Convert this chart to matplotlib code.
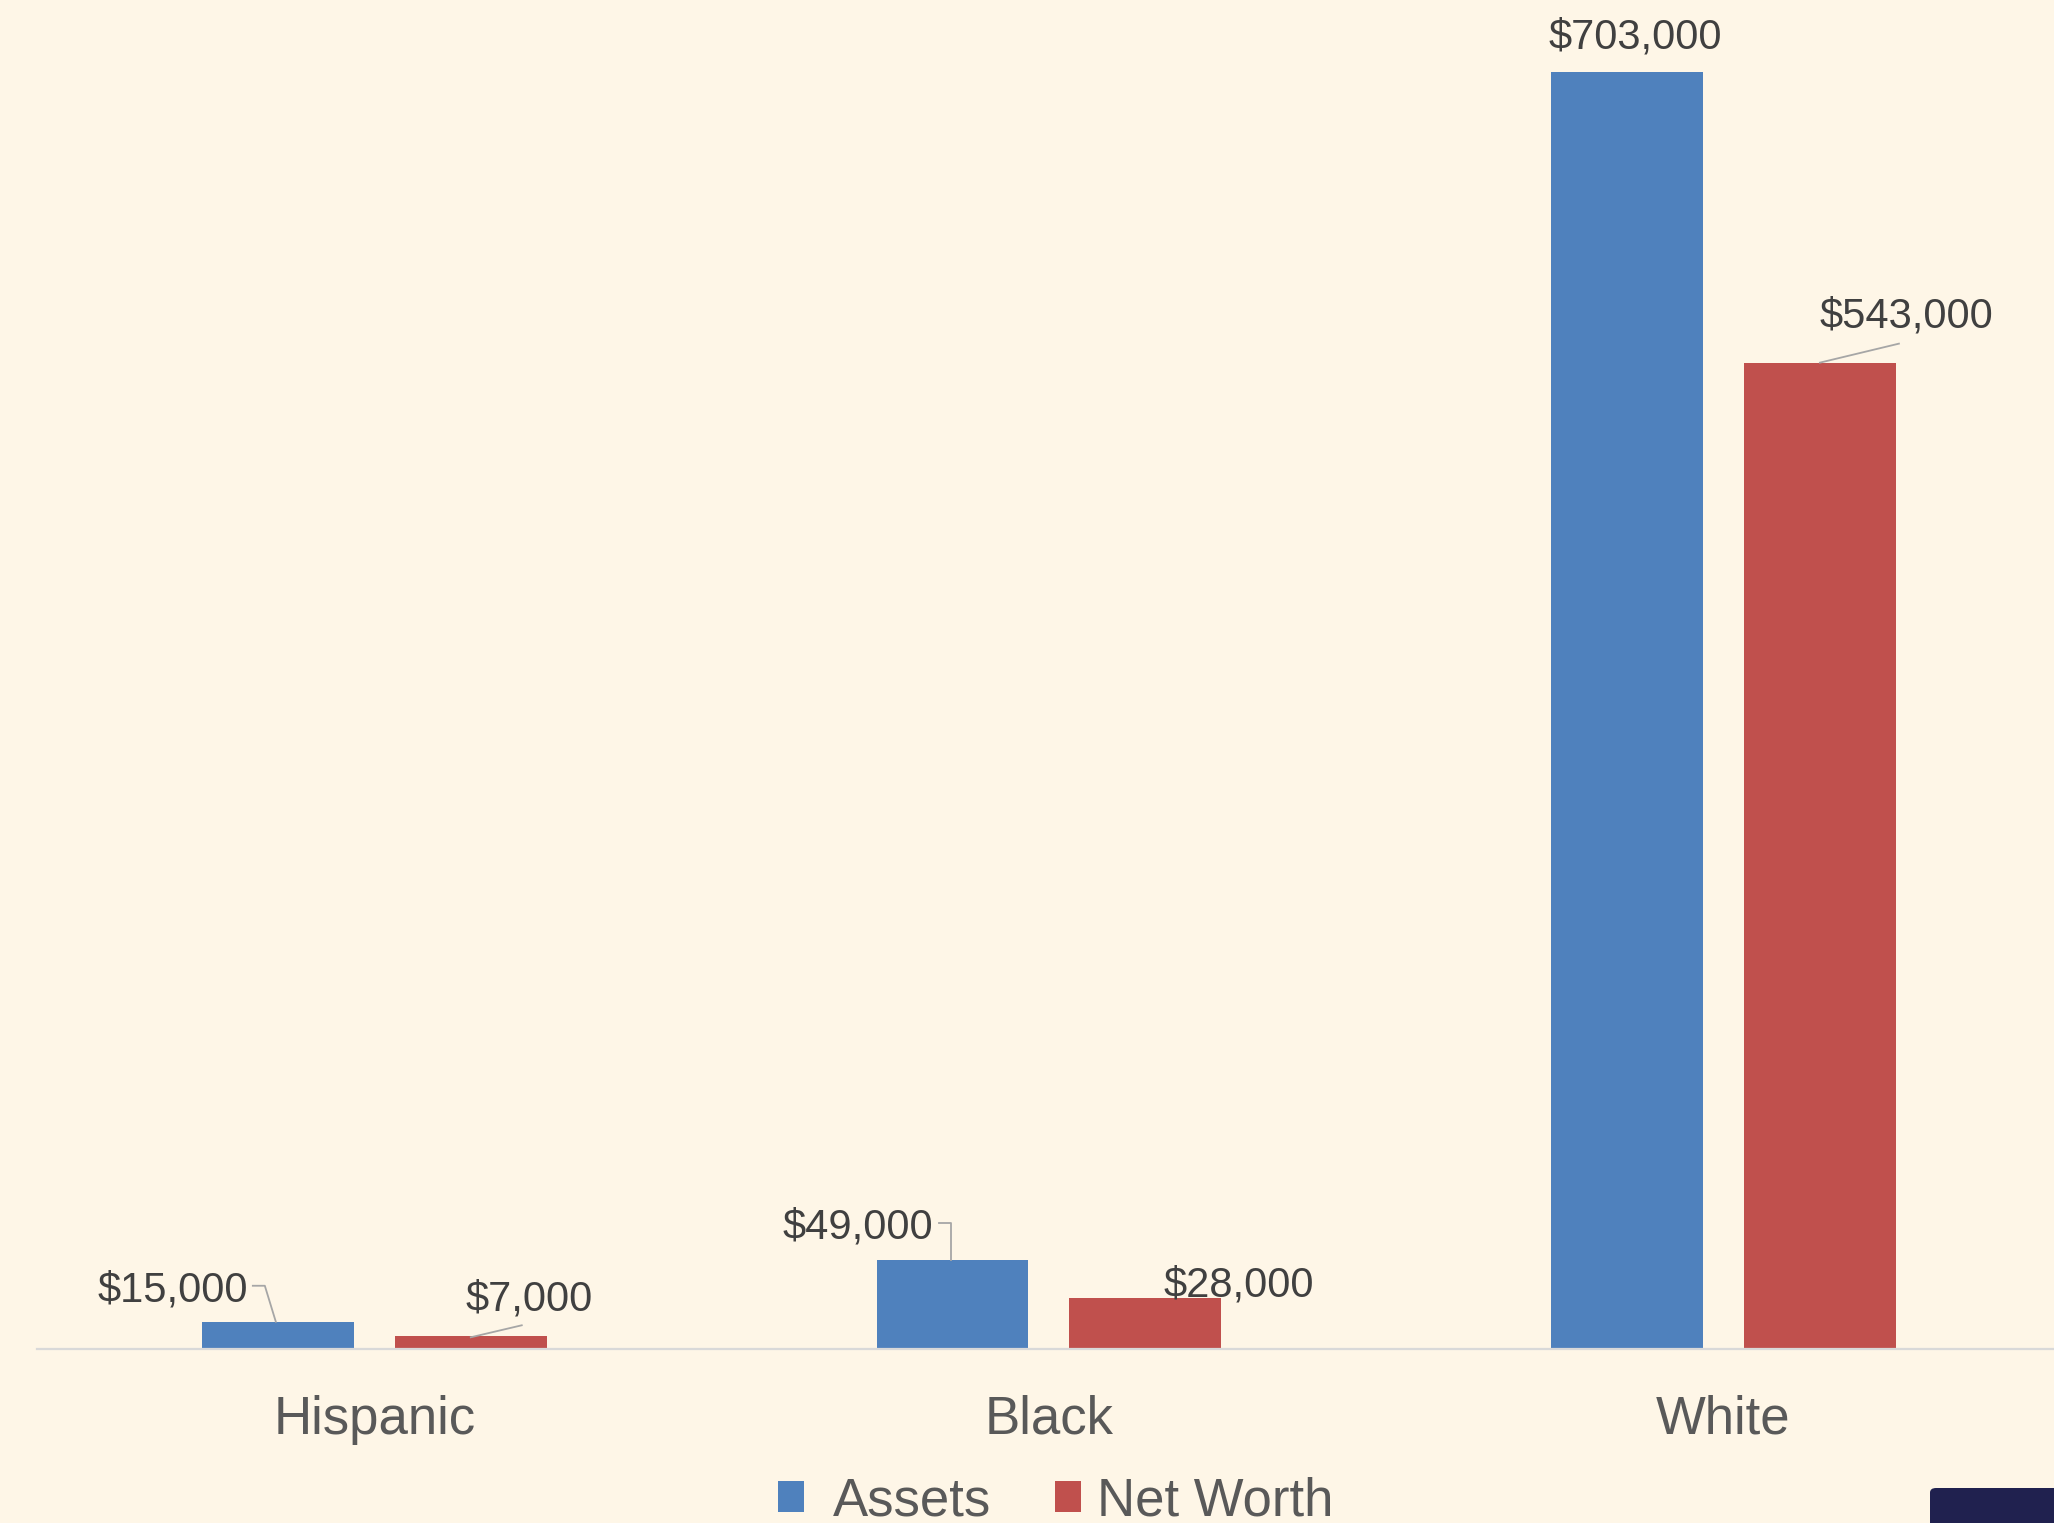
import matplotlib
matplotlib.use("Agg")
import matplotlib.pyplot as plt
from matplotlib.patches import Patch, FancyBboxPatch
import numpy as np

categories = ["Hispanic", "Black", "White"]
assets = [15000, 49000, 703000]
net_worth = [7000, 28000, 543000]
series_names = ["Assets", "Net Worth"]
label_assets = ["$15,000", "$49,000", "$703,000"]
label_net = ["$7,000", "$28,000", "$543,000"]

BG = "#FEF6E7"
BLUE = "#4F81BD"
RED = "#C0504D"

plt.rcParams['font.family'] = ['Liberation Sans', 'DejaVu Sans']

W, H = 2054, 1523
fig = plt.figure(figsize=(W / 100, H / 100), dpi=100, facecolor=BG)
ax = fig.add_axes([37 / W, 1 - 1349 / H, 1 - 37 / W, 1349 / H])
ax.set_facecolor(BG)

x = np.arange(len(categories))
bw = 0.225
off = 0.143
ax.bar(x - off, assets, bw, color=BLUE, zorder=2)
ax.bar(x + off, net_worth, bw, color=RED, zorder=2)

ax.set_xlim(-0.5, 2.49)
ax.set_ylim(0, 703000 * 1349 / 1277)
ax.set_yticks([])
ax.set_xticks(x)
ax.set_xticklabels(categories, fontsize=38, color="#595959")
ax.tick_params(axis='x', length=0, pad=33)
for s in ["top", "left", "right"]:
    ax.spines[s].set_visible(False)
ax.spines["bottom"].set_color("#D9D9D9")
ax.spines["bottom"].set_linewidth(1.6)
ax.spines["bottom"].set_zorder(3)

# label layout: (text offset dx, dy in image px (y down), ha, leader vertices)
layout_assets = [
    (-30, -31, "right", [(-25, -36), (-13, -36), (-2, 0)]),
    (-19, -32, "right", [(-13, -37), (-1, -37), (-1, 0)]),
    (8, -35, "center", None),
]
layout_net = [
    (-5, -37, "left", [(0, 1), (51, -11)]),
    (18, -13, "left", None),
    (0, -46, "left", [(0, 0), (79, -19)]),
]

def put_labels(xs, vals, texts, layout):
    for xi, v, t, (dx, dy, ha, leader) in zip(xs, vals, texts, layout):
        ax.annotate(t, xy=(xi, v), xycoords='data', xytext=(dx, -dy),
                    textcoords='offset pixels', ha=ha, va='center',
                    fontsize=30, color="#404040", zorder=5)
        if leader:
            p = ax.transData.transform((xi, v))
            verts = np.array([(p[0] + a, p[1] - b) for a, b in leader])
            d = ax.transData.inverted().transform(verts)
            ax.plot(d[:, 0], d[:, 1], color="#A6A6A6", lw=1.3,
                    clip_on=False, zorder=4)

put_labels(x - off, assets, label_assets, layout_assets)
put_labels(x + off, net_worth, label_net, layout_net)

leg_y = 1 - 1501 / H
for color, name, lx, pad in [(BLUE, series_names[0], 778, 0.55),
                             (RED, series_names[1], 1055, 0.30)]:
    fig.legend([Patch(facecolor=color, edgecolor='none')], [name],
               loc='center left', bbox_to_anchor=(lx / W, leg_y),
               frameon=False, fontsize=38, labelcolor="#595959",
               handlelength=0.49, handleheight=0.53, handletextpad=pad,
               borderpad=0, borderaxespad=0)

box = FancyBboxPatch((1930 / W, -0.02), 0.2, 0.02 + (H - 1488) / H,
                     boxstyle="round,pad=0,rounding_size=0.003",
                     transform=fig.transFigure, facecolor="#20214F",
                     edgecolor='none', zorder=10)
fig.add_artist(box)

fig.savefig("out.png", dpi=100, facecolor=BG)
